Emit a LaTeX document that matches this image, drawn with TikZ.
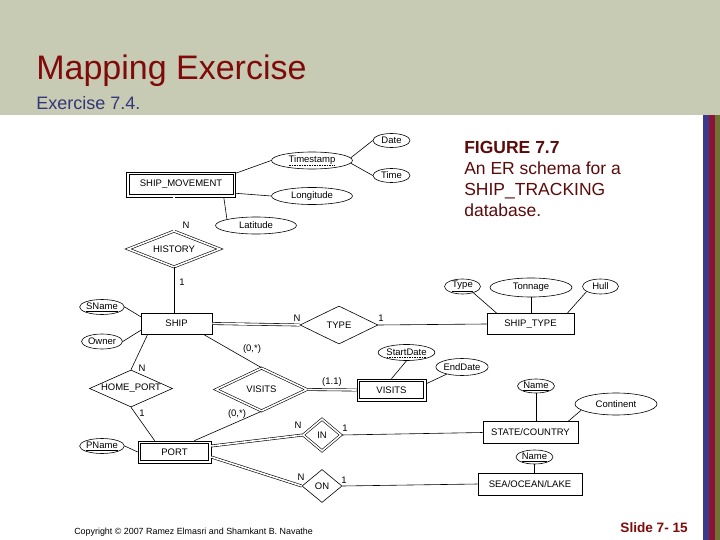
\documentclass[tikz,border=0pt]{standalone}
\usepackage{fontspec}
\setmainfont{Liberation Sans}
\usetikzlibrary{shapes.geometric,calc}
\definecolor{hdr}{HTML}{C8CBB3}
\definecolor{ttl}{HTML}{7F0A0A}
\definecolor{sub}{HTML}{35357A}
\definecolor{capc}{HTML}{5C0A0A}
\definecolor{barb}{HTML}{3A3A8C}
\definecolor{barr}{HTML}{8C1238}
\definecolor{baro}{HTML}{6E7232}
\begin{document}
\begin{tikzpicture}[x=1pt,y=-1pt, line width=0.6pt,
  dfont/.style={font=\fontsize{9.5}{11}\selectfont},
  ent/.style={draw, rectangle, inner sep=0pt, dfont},
  attr/.style={draw, ellipse, inner sep=0pt, dfont},
  rel/.style={draw, diamond, aspect=2.2, inner sep=0pt, dfont},
  wrel/.style={rel, double, double distance=1.6pt},
  dbl/.style={double, double distance=1.6pt},
  dul/.style={line width=0.4pt, dash pattern=on 1.5pt off 1pt},
  lbl/.style={dfont, inner sep=0pt}]
\useasboundingbox (0,0) rectangle (720,540);
\fill[white] (0,0) rectangle (720,540);
\fill[hdr] (0,0) rectangle (720,115);
\fill[barb] (703,115) rectangle (708.5,540);
\fill[barr] (708.5,115) rectangle (714.5,540);
\fill[baro] (714.5,115) rectangle (720,540);

\node[anchor=base west, text=ttl, font=\fontsize{34}{40}\selectfont, inner sep=0pt] (title) at (36,80) {Mapping Exercise};
\node[anchor=base west, text=sub, font=\fontsize{18}{21}\selectfont, inner sep=0pt] (subt) at (36,110) {Exercise 7.4.};

\node[anchor=base west, text=capc, font=\bfseries\fontsize{17.5}{20}\selectfont, inner sep=0pt] (cap1) at (464,154) {FIGURE 7.7};
\node[anchor=base west, text=capc, font=\fontsize{17.5}{20}\selectfont, inner sep=0pt] (cap2) at (464,175) {An ER schema for a};
\node[anchor=base west, text=capc, font=\fontsize{17.5}{20}\selectfont, inner sep=0pt] (cap3) at (464,196) {SHIP\_TRACKING};
\node[anchor=base west, text=capc, font=\fontsize{17.5}{20}\selectfont, inner sep=0pt] (cap4) at (464,217) {database.};

\node[anchor=base west, font=\fontsize{8.9}{10}\selectfont, inner sep=0pt] (copy) at (74,534) {Copyright © 2007 Ramez Elmasri and Shamkant B. Navathe};
\node[anchor=base east, text=ttl, font=\bfseries\fontsize{13.6}{15}\selectfont, inner sep=0pt] (slide) at (688,532) {Slide 7- 15};

% entities, attributes, relationships
\node[ent, minimum width=109pt, minimum height=25pt] (sm) at (181,184.5) {SHIP\_MOVEMENT};
\node[attr, minimum width=81pt, minimum height=17pt] (ts) at (312,160.5) {Timestamp};
\node[attr, minimum width=37pt, minimum height=14pt] (date) at (391.5,140.5) {Date};
\node[attr, minimum width=37pt, minimum height=14pt] (time) at (391.5,175.5) {Time};
\node[attr, minimum width=81pt, minimum height=17pt] (lon) at (312,196) {Longitude};
\node[attr, minimum width=81pt, minimum height=17pt] (lat) at (256,225.5) {Latitude};
\node[wrel, minimum width=92pt, minimum height=36pt] (hist) at (174,249) {HISTORY};
\node[ent, minimum width=71pt, minimum height=21pt] (ship) at (176.5,323.5) {SHIP};
\node[attr, minimum width=41pt, minimum height=15pt] (sname) at (102,307) {\underline{SName}};
\node[attr, minimum width=41pt, minimum height=15pt] (owner) at (102,341.5) {Owner};
\node[rel, minimum width=78pt, minimum height=38pt] (typer) at (339,325) {TYPE};
\node[ent, minimum width=87pt, minimum height=21pt] (stype) at (530.5,324) {SHIP\_TYPE};
\node[attr, minimum width=36pt, minimum height=15pt] (typea) at (462.5,286.5) {\underline{Type}};
\node[attr, minimum width=82pt, minimum height=19pt] (tonn) at (531,287.5) {Tonnage};
\node[attr, minimum width=36pt, minimum height=15pt] (hull) at (600.5,286.5) {Hull};
\node[rel, minimum width=83pt, minimum height=37pt] (hp) at (131,388.5) {HOME\_PORT};
\node[ent, minimum width=73pt, minimum height=22pt] (port) at (174.5,452) {PORT};
\node[attr, minimum width=40pt, minimum height=15pt] (pname) at (102,446) {\underline{PName}};
\node[wrel, minimum width=91pt, minimum height=43pt] (visr) at (261.5,389.5) {VISITS};
\node[ent, minimum width=69pt, minimum height=22pt] (vise) at (391.5,390) {VISITS};
\node[attr, minimum width=53pt, minimum height=16pt] (sd) at (406.5,352.5) {StartDate};
\node[attr, minimum width=50pt, minimum height=17pt] (ed) at (462,367) {EndDate};
\node[wrel, minimum width=38pt, minimum height=32pt] (inr) at (322,435) {IN};
\node[rel, minimum width=40pt, minimum height=33pt] (onr) at (322,486) {ON};
\node[ent, minimum width=95pt, minimum height=22pt] (sc) at (530.5,432.5) {STATE/COUNTRY};
\node[attr, minimum width=37pt, minimum height=14pt] (nm1) at (536,386) {\underline{Name}};
\node[attr, minimum width=82pt, minimum height=22pt] (cont) at (616,404) {Continent};
\node[ent, minimum width=104pt, minimum height=22pt] (sol) at (530,484) {SEA/OCEAN/LAKE};
\node[attr, minimum width=37pt, minimum height=14pt] (nm2) at (534.5,457) {\underline{Name}};

% inner borders of weak entities
\draw ($(sm.north west)+(3,3)$) rectangle ($(sm.south east)+(-3,-3)$);
\draw ($(port.north west)+(3,3)$) rectangle ($(port.south east)+(-3,-3)$);
\draw ($(vise.north west)+(3,3)$) rectangle ($(vise.south east)+(-3,-3)$);

% dashed underlines of partial keys
\draw[dul] ($(ts.center)+(-23,4.6)$) -- ($(ts.center)+(23,4.6)$);
\draw[dul] ($(sd.center)+(-20,4.6)$) -- ($(sd.center)+(20,4.6)$);

% connectors
\draw ($(sm.north east)+(0,1.5)$) -- (ts.west);
\draw ($(sm.south east)+(0,-4)$) -- (lon.west);
\draw ($(sm.south east)+(-12,0)$) -- (lat.168);
\draw (ts.4) -- (date.west);
\draw (ts.-4) -- (time.west);
\draw[dbl] (sm.south -| hist.north) -- (hist.north);
\draw (hist.south) -- (hist.south |- ship.north);
\draw (sname.east) -- ($(ship.north west)+(0,4)$);
\draw (owner.east) -- ($(ship.south west)+(0,-4)$);
\draw[dbl] (ship.east) -- (typer.west);
\draw (typer.east) -- (stype.west);
\draw (typea.-30) -- ($(stype.north west)+(10,0)$);
\draw (tonn.south) -- (tonn.south |- stype.north);
\draw (hull.200) -- ($(stype.north east)+(-7,0)$);
\draw ($(ship.south west)+(7,0)$) -- (hp.north);
\draw (hp.south) -- ($(port.north west)+(17,0)$);
\draw (pname.east) -- (port.west);
\draw ($(ship.south east)+(-9,0)$) -- (visr.north);
\draw ($(port.north east)+(-17,0)$) -- (visr.south);
\draw[dbl] (visr.east) -- (vise.west);
\draw (sd.south) -- (vise.north);
\draw (ed.205) -- ($(vise.north east)+(0,5)$);
\draw[dbl] ($(port.east)+(0,-6)$) -- (inr.west);
\draw[dbl] ($(port.east)+(0,5)$) -- (onr.west);
\draw (inr.east) -- (sc.west);
\draw (onr.east) -- (sol.west);
\draw (nm1.south) -- (nm1.south |- sc.north);
\draw (cont.190) -- ($(sc.north east)+(-10,0)$);
\draw (nm2.south) -- (nm2.south |- sol.north);

% cardinality labels
\node[lbl] (l1) at (186,225) {N};
\node[lbl] (l2) at (182,282) {1};
\node[lbl] (l3) at (297,318) {N};
\node[lbl] (l4) at (381,318) {1};
\node[lbl] (l5) at (142,368) {N};
\node[lbl] (l6) at (142,413) {1};
\node[lbl] (l7) at (252,349) {(0,*)};
\node[lbl] (l8) at (237,414) {(0,*)};
\node[lbl] (l9) at (332,382) {(1.1)};
\node[lbl] (l10) at (298,425) {N};
\node[lbl] (l11) at (345,428) {1};
\node[lbl] (l12) at (301,477) {N};
\node[lbl] (l13) at (344,480) {1};
\end{tikzpicture}
\end{document}
